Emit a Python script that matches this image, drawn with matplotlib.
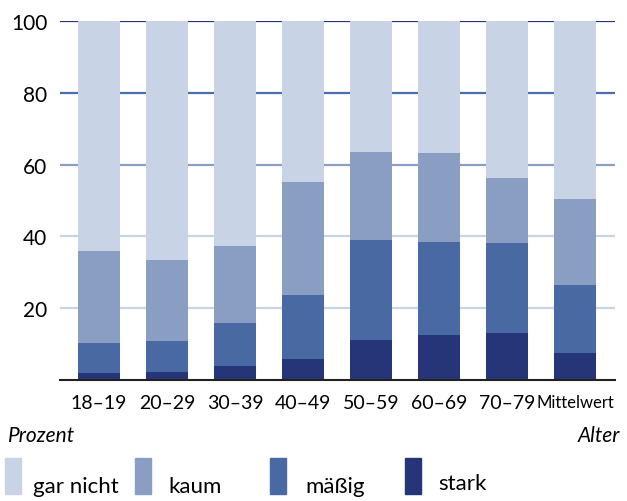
import matplotlib
matplotlib.use("Agg")
import matplotlib.pyplot as plt
import numpy as np

categories = ["18–19", "20–29", "30–39", "40–49", "50–59", "60–69", "70–79", "Mittelwert"]
stark = [2.0, 2.2, 3.9, 5.8, 11.1, 12.5, 13.1, 7.5]
maessig_top = [10.3, 10.9, 15.9, 23.7, 39.0, 38.4, 38.2, 26.5]
kaum_top = [36.0, 33.4, 37.3, 55.2, 63.5, 63.2, 56.3, 50.4]
total = [100] * 8
series_names = ["gar nicht", "kaum", "mäßig", "stark"]
colors = ["#c9d3e6", "#8a9ec4", "#4869a1", "#253578"]
yticks = [20, 40, 60, 80, 100]
grid_colors = ["#c9d3e6", "#c9d3e6", "#8a9ec4", "#4a6db0", "#26357a"]

maessig = [m - s for m, s in zip(maessig_top, stark)]
kaum = [k - m for k, m in zip(kaum_top, maessig_top)]
garnicht = [t - k for t, k in zip(total, kaum_top)]

plt.rcParams['font.family'] = ['Lato', 'DejaVu Sans']
fig = plt.figure(figsize=(6.27, 5.02), dpi=100)
ax = fig.add_axes([60/627, 1-381/502, 555/627, 359/502])
x = np.arange(len(categories))
w = 0.62
for yv, gc in zip(yticks, grid_colors):
    ax.axhline(yv, color=gc, lw=1.6, zorder=0)
ax.bar(x, stark, w, color=colors[3], zorder=2)
ax.bar(x, maessig, w, bottom=stark, color=colors[2], zorder=2)
ax.bar(x, kaum, w, bottom=maessig_top, color=colors[1], zorder=2)
ax.bar(x, garnicht, w, bottom=kaum_top, color=colors[0], zorder=2)
ax.set_xlim(-0.574, 7.59)
ax.set_ylim(0, 100)
for s in ["top", "right", "left"]:
    ax.spines[s].set_visible(False)
ax.spines["bottom"].set_color("#222222")
ax.spines["bottom"].set_linewidth(1.5)
ax.spines["bottom"].set_zorder(3)
ax.set_yticks(yticks)
ax.set_yticklabels([str(v) for v in yticks], fontsize=15)
ax.tick_params(axis='y', length=0, pad=9)
ax.set_xticks(x)
ax.set_xticklabels(categories, fontsize=14)
ax.tick_params(axis='x', length=0, pad=10)
for lbl in ax.get_xticklabels():
    if lbl.get_text() == "Mittelwert":
        lbl.set_fontsize(12)

fig.text(8/627, 1-436/502, "Prozent", fontsize=15, style='italic', ha='left', va='center')
fig.text(620/627, 1-436/502, "Alter", fontsize=15, style='italic', ha='right', va='center')

leg_x = [5, 135, 270, 405]
txt_x = [33, 168, 305, 438]
txt_y = [487, 487, 487, 484]
for i in range(4):
    fig.patches.append(plt.Rectangle((leg_x[i]/627, 1-495/502), 16/627, 36/502,
                                     transform=fig.transFigure, color=colors[i]))
    fig.text(txt_x[i]/627, 1-txt_y[i]/502, series_names[i], fontsize=16, ha='left', va='center')

fig.savefig("out.png", dpi=100)
